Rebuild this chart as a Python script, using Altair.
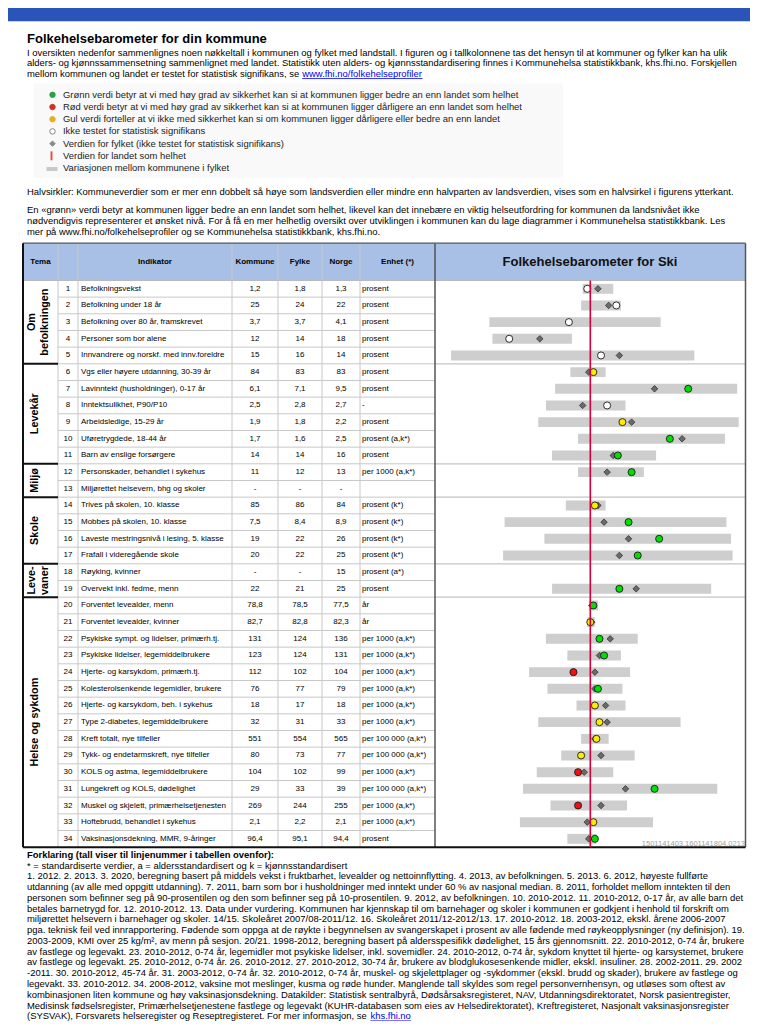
import altair as alt
import pandas as pd

# ---------------- data ----------------
row_numbers = list(range(1, 35))
indicators = [
    "Befolkningsvekst", "Befolkning under 18 år", "Befolkning over 80 år, framskrevet",
    "Personer som bor alene", "Innvandrere og norskf. med innv.foreldre",
    "Vgs eller høyere utdanning, 30-39 år", "Lavinntekt (husholdninger), 0-17 år",
    "Inntektsulikhet, P90/P10", "Arbeidsledige, 15-29 år", "Uføretrygdede, 18-44 år",
    "Barn av enslige forsørgere", "Personskader, behandlet i sykehus",
    "Miljørettet helsevern, bhg og skoler", "Trives på skolen, 10. klasse",
    "Mobbes på skolen, 10. klasse", "Laveste mestringsnivå i lesing, 5. klasse",
    "Frafall i videregående skole", "Røyking, kvinner", "Overvekt inkl. fedme, menn",
    "Forventet levealder, menn", "Forventet levealder, kvinner",
    "Psykiske sympt. og lidelser, primærh.tj.", "Psykiske lidelser, legemiddelbrukere",
    "Hjerte- og karsykdom, primærh.tj.", "Kolesterolsenkende legemidler, brukere",
    "Hjerte- og karsykdom, beh. i sykehus", "Type 2-diabetes, legemiddelbrukere",
    "Kreft totalt, nye tilfeller", "Tykk- og endetarmskreft, nye tilfeller",
    "KOLS og astma, legemiddelbrukere", "Lungekreft og KOLS, dødelighet",
    "Muskel og skjelett, primærhelsetjenesten", "Hoftebrudd, behandlet i sykehus",
    "Vaksinasjonsdekning, MMR, 9-åringer",
]
kommune = ["1,2", "25", "3,7", "12", "15", "84", "6,1", "2,5", "1,9", "1,7", "14", "11", "-", "85", "7,5",
           "19", "20", "-", "22", "78,8", "82,7", "131", "123", "112", "76", "18", "32", "551", "80",
           "104", "29", "269", "2,1", "96,4"]
fylke = ["1,8", "24", "3,7", "14", "16", "83", "7,1", "2,8", "1,8", "1,6", "14", "12", "-", "86", "8,4",
         "22", "22", "-", "21", "78,5", "82,8", "124", "124", "102", "77", "17", "31", "554", "73",
         "102", "33", "244", "2,2", "95,1"]
norge = ["1,3", "22", "4,1", "18", "14", "83", "9,5", "2,7", "2,2", "2,5", "16", "13", "-", "84", "8,9",
         "26", "25", "15", "25", "77,5", "82,3", "136", "131", "104", "79", "18", "33", "565", "77",
         "99", "39", "255", "2,1", "94,4"]
enhet = (["prosent"] * 7 + ["-", "prosent", "prosent (a,k*)", "prosent", "per 1000 (a,k*)", "",
                            "prosent (k*)", "prosent (k*)", "prosent (k*)", "prosent (k*)",
                            "prosent (a*)", "prosent", "år", "år"]
         + ["per 1000 (a,k*)"] * 6
         + ["per 100 000 (a,k*)", "per 100 000 (a,k*)", "per 1000 (a,k*)", "per 100 000 (a,k*)",
            "per 1000 (a,k*)", "per 1000 (a,k*)", "prosent"])

# significance class of the municipality dot (W = not tested, Y = yellow, G = green, R = red)
status = ["W", "W", "W", "W", "W", "Y", "G", "W", "Y", "G", "G", "G", None, "Y", "G", "G", "G", None,
          "G", "G", "Y", "G", "G", "R", "G", "Y", "Y", "Y", "Y", "R", "G", "R", "Y", "G"]
# barometer positions (national value = 0, panel edges = -1 / +1, "better" to the right)
kommune_pos = [-0.02, 0.17, -0.14, -0.53, 0.07, 0.02, 0.64, 0.11, 0.21, 0.52, 0.18, 0.27, None, 0.03,
               0.25, 0.45, 0.31, None, 0.19, 0.02, 0.00, 0.06, 0.09, -0.11, 0.05, 0.03, 0.06, 0.04,
               -0.06, -0.08, 0.42, -0.08, 0.02, 0.03]
fylke_pos = [0.05, 0.12, -0.14, -0.33, 0.19, -0.01, 0.42, -0.05, 0.27, 0.60, 0.15, 0.11, None, 0.05,
             0.09, 0.25, 0.19, None, 0.30, 0.01, 0.01, 0.13, 0.06, 0.03, 0.03, 0.10, 0.11, 0.03,
             0.07, -0.04, 0.23, 0.07, -0.02, -0.01]
range_lo = [-0.05, -0.06, -0.66, -0.64, -0.91, -0.13, -0.23, -0.29, -0.34, -0.08, -0.25, -0.08, None,
            -0.16, -0.56, -0.30, -0.57, None, -0.25, -0.01, -0.02, -0.29, -0.15, -0.40, -0.28, -0.09,
            -0.34, -0.06, -0.19, -0.35, -0.44, -0.26, -0.46, -0.15]
range_hi = [0.15, 0.20, 0.46, -0.12, 0.68, 0.10, 0.96, 0.23, 0.97, 0.88, 0.43, 0.35, None, 0.10, 0.89,
            0.92, 0.93, None, 0.79, 0.05, 0.03, 0.31, 0.20, 0.26, 0.21, 0.23, 0.59, 0.12, 0.29,
            0.15, 0.83, 0.24, 0.41, 0.04]

theme_lines = [["Om", "befolkningen"], ["Levekår"], ["Miljø"], ["Skole"], ["Leve-", "vaner"],
               ["Helse og sykdom"]]
theme_rows = [5, 6, 2, 4, 2, 15]

title_text = "Folkehelsebarometer for din kommune"
intro_lines = [
    "I oversikten nedenfor sammenlignes noen nøkkeltall i kommunen og fylket med landstall. I figuren og i tallkolonnene tas det hensyn til at kommuner og fylker kan ha ulik",
    "alders- og kjønnssammensetning sammenlignet med landet. Statistikk uten alders- og kjønnsstandardisering finnes i Kommunehelsa statistikkbank, khs.fhi.no. Forskjellen",
    "mellom kommunen og landet er testet for statistisk signifikans, se ",
]
intro_link = "www.fhi.no/folkehelseprofiler"
legend_texts = [
    "Grønn verdi betyr at vi med høy grad av sikkerhet kan si at kommunen ligger bedre an enn landet som helhet",
    "Rød verdi betyr at vi med høy grad av sikkerhet kan si at kommunen ligger dårligere an enn landet som helhet",
    "Gul verdi forteller at vi ikke med sikkerhet kan si om kommunen ligger dårligere eller bedre an enn landet",
    "Ikke testet for statistisk signifikans",
    "Verdien for fylket (ikke testet for statistisk signifikans)",
    "Verdien for landet som helhet",
    "Variasjonen mellom kommunene i fylket",
]
halv_text = "Halvsirkler: Kommuneverdier som er mer enn dobbelt så høye som landsverdien eller mindre enn halvparten av landsverdien, vises som en halvsirkel i figurens ytterkant."
green_lines = [
    "En «grønn» verdi betyr at kommunen ligger bedre an enn landet som helhet, likevel kan det innebære en viktig helseutfordring for kommunen da landsnivået ikke",
    "nødvendigvis representerer et ønsket nivå. For å få en mer helhetlig oversikt over utviklingen i kommunen kan du lage diagrammer i Kommunehelsa statistikkbank. Les",
    "mer på www.fhi.no/folkehelseprofiler og se Kommunehelsa statistikkbank, khs.fhi.no.",
]
header_texts = ["Tema", "Indikator", "Kommune", "Fylke", "Norge", "Enhet (*)"]
panel_title = "Folkehelsebarometer for Ski"
footer_title = "Forklaring (tall viser til linjenummer i tabellen ovenfor):"
footer_lines = [
    "* = standardiserte verdier, a = aldersstandardisert og k = kjønnsstandardisert",
    "1. 2012. 2. 2013. 3. 2020, beregning basert på middels vekst i fruktbarhet, levealder og nettoinnflytting. 4. 2013, av befolkningen. 5. 2013. 6. 2012, høyeste fullførte",
    "utdanning (av alle med oppgitt utdanning). 7. 2011, barn som bor i husholdninger med inntekt under 60 % av nasjonal median. 8. 2011, forholdet mellom inntekten til den",
    "personen som befinner seg på 90-prosentilen og den som befinner seg på 10-prosentilen. 9. 2012, av befolkningen. 10. 2010-2012. 11. 2010-2012, 0-17 år, av alle barn det",
    "betales barnetrygd for. 12. 2010-2012. 13. Data under vurdering. Kommunen har kjennskap til om barnehager og skoler i kommunen er godkjent i henhold til forskrift om",
    "miljørettet helsevern i barnehager og skoler. 14/15. Skoleåret 2007/08-2011/12. 16. Skoleåret 2011/12-2012/13. 17. 2010-2012. 18. 2003-2012, ekskl. årene 2006-2007",
    "pga. teknisk feil ved innrapportering. Fødende som oppga at de røykte i begynnelsen av svangerskapet i prosent av alle fødende med røykeopplysninger (ny definisjon). 19.",
    "2003-2009, KMI over 25 kg/m², av menn på sesjon. 20/21. 1998-2012, beregning basert på aldersspesifikk dødelighet, 15 års gjennomsnitt. 22. 2010-2012, 0-74 år, brukere",
    "av fastlege og legevakt. 23. 2010-2012, 0-74 år, legemidler mot psykiske lidelser, inkl. sovemidler. 24. 2010-2012, 0-74 år, sykdom knyttet til hjerte- og karsystemet, brukere",
    "av fastlege og legevakt. 25. 2010-2012, 0-74 år. 26. 2010-2012. 27. 2010-2012, 30-74 år, brukere av blodglukosesenkende midler, ekskl. insuliner. 28. 2002-2011. 29. 2002",
    "-2011. 30. 2010-2012, 45-74 år. 31. 2003-2012, 0-74 år. 32. 2010-2012, 0-74 år, muskel- og skjelettplager og -sykdommer (ekskl. brudd og skader), brukere av fastlege og",
    "legevakt. 33. 2010-2012. 34. 2008-2012, vaksine mot meslinger, kusma og røde hunder. Manglende tall skyldes som regel personvernhensyn, og utløses som oftest av",
    "kombinasjonen liten kommune og høy vaksinasjonsdekning. Datakilder: Statistisk sentralbyrå, Dødsårsaksregisteret, NAV, Utdanningsdirektoratet, Norsk pasientregister,",
    "Medisinsk fødselsregister, Primærhelsetjenestene fastlege og legevakt (KUHR-databasen som eies av Helsedirektoratet), Kreftregisteret, Nasjonalt vaksinasjonsregister",
    "(SYSVAK), Forsvarets helseregister og Reseptregisteret. For mer informasjon, se ",
]
footer_link = "khs.fhi.no"
stamp_text = "1501141403.1601141804.0213"

# ---------------- layout (page pixels of the reference) ----------------
FONT = "Liberation Sans"
W, H = 742, 1013
X_MIN, X_MAX = 8, 750
Y_MIN, Y_MAX = 4, 1025
TL, TR = 23, 745.5              # table left / right
HDR_T, HDR_B = 241, 278.6       # header top / bottom
ROW_H = 16.8
TB = HDR_B + 34 * ROW_H         # table bottom
COLS = [58, 78, 232, 278, 322, 360]
PANEL_L = 435
PC, PHALF = 590.3, 153.0        # panel centre (national line) and half width
BAR_HALF = 5.0
FS_TXT = 9.45                   # running text
FS_TAB = 8.0                    # table text
LEFT = 27

# Arial/Liberation advance widths (per 1000 em) used to place the inline links
_AW = {" ": 278, ".": 278, ",": 278, "-": 333, "/": 278, "(": 333, ")": 333, "f": 278, "i": 222,
       "j": 222, "l": 222, "r": 333, "t": 278, "k": 500, "s": 500, "v": 500, "x": 500, "y": 500,
       "z": 500, "c": 500, "m": 833, "w": 722, "ø": 611, "æ": 889, "I": 278, "S": 667, "Y": 667,
       "V": 667, "A": 667, "K": 667, "F": 611, "R": 722}


def text_w(s, fs):
    return sum(_AW.get(ch, 556) for ch in s) / 1000.0 * fs


px_x = alt.Scale(domain=[X_MIN, X_MAX], nice=False, zero=False)
px_y = alt.Scale(domain=[Y_MIN, Y_MAX], nice=False, zero=False, reverse=True)
b_x = alt.Scale(domain=[(X_MIN - PC) / PHALF, (X_MAX - PC) / PHALF], nice=False, zero=False)


def row_c(i):
    return HDR_B + (i + 0.5) * ROW_H


def rect_layer(df):
    return alt.Chart(df).mark_rect().encode(
        x=alt.X("x:Q", scale=px_x, axis=None), x2="x2:Q",
        y=alt.Y("y:Q", scale=px_y, axis=None), y2="y2:Q",
        color=alt.Color("c:N", scale=None))


def rule_layer(df):
    return alt.Chart(df).mark_rule().encode(
        x=alt.X("x:Q", scale=px_x, axis=None), x2="x2:Q",
        y=alt.Y("y:Q", scale=px_y, axis=None), y2="y2:Q",
        color=alt.Color("c:N", scale=None),
        strokeWidth=alt.StrokeWidth("w:Q", scale=None))


def text_layer(rows, **kw):
    df = pd.DataFrame(rows, columns=["x", "y", "t", "s", "c"])
    return alt.Chart(df).mark_text(font=FONT, baseline="middle", **kw).encode(
        x=alt.X("x:Q", scale=px_x, axis=None),
        y=alt.Y("y:Q", scale=px_y, axis=None),
        text=alt.Text("t:N"),
        size=alt.Size("s:Q", scale=None),
        color=alt.Color("c:N", scale=None))


# vertical positions of the running text
TITLE_Y = 35
INTRO_Y = [49, 59.8, 70.5]
LEG_Y0, LEG_DY = 91.5, 12.3
LEG_MX, LEG_TX = 52.5, 63
HALV_Y = 189.5
GREEN_Y = [208, 219, 230]
FY0, FDY = 857.5, 10.85

# background rectangles
rects = pd.DataFrame([
    dict(x=0, x2=758, y=0, y2=17.3, c="#2b54bb"),
    dict(x=34, x2=563, y=80, y2=175, c="#f9f9f9"),
    dict(x=TL, x2=TR, y=HDR_T, y2=HDR_B, c="#a8c0e6"),
])

# grid lines
rl = []
for k in range(1, 34):
    yk = HDR_B + k * ROW_H
    rl.append(dict(x=COLS[0], x2=PANEL_L, y=yk, y2=yk, c="#c8c8c8", w=1))
bounds = []
acc = 0
for n in theme_rows[:-1]:
    acc += n
    bounds.append(HDR_B + acc * ROW_H)
for yb in bounds:
    rl.append(dict(x=PANEL_L, x2=TR, y=yb, y2=yb, c="#c4c4c4", w=1.2))
for xc in COLS:
    rl.append(dict(x=xc, x2=xc, y=HDR_T, y2=TB, c="#c8c8c8", w=1))
rl.append(dict(x=TL, x2=TR, y=HDR_B, y2=HDR_B, c="#b8b8b8", w=1))
for yb in bounds:
    rl.append(dict(x=TL, x2=COLS[0], y=yb, y2=yb, c="#111111", w=2))
rl.append(dict(x=PANEL_L, x2=PANEL_L, y=HDR_T, y2=TB, c="#555555", w=1.5))
rl.append(dict(x=TR, x2=TR, y=HDR_T, y2=TB, c="#555555", w=1.5))
rl.append(dict(x=TL, x2=TR, y=HDR_T, y2=HDR_T, c="#555555", w=1.2))
rl.append(dict(x=TL, x2=TL, y=HDR_T, y2=TB, c="#111111", w=2))
rl.append(dict(x=TL, x2=TR, y=TB, y2=TB, c="#111111", w=2))

# inline links (placed after the preceding text)
link1_x = LEFT + text_w(intro_lines[2], FS_TXT)
link1_w = text_w(intro_link, FS_TXT)
foot_last_y = FY0 + len(footer_lines) * FDY
link2_x = LEFT + text_w(footer_lines[-1], FS_TXT)
link2_w = text_w(footer_link, FS_TXT)
rl.append(dict(x=link1_x, x2=link1_x + link1_w, y=INTRO_Y[2] + 4.6, y2=INTRO_Y[2] + 4.6, c="#0000ee", w=0.8))
rl.append(dict(x=link2_x, x2=link2_x + link2_w, y=foot_last_y + 4.6, y2=foot_last_y + 4.6, c="#0000ee", w=0.8))

# legend: national tick and municipality range
rl.append(dict(x=LEG_MX - 1, x2=LEG_MX - 1, y=LEG_Y0 + 5 * LEG_DY - 4.5, y2=LEG_Y0 + 5 * LEG_DY + 4.5,
               c="#e0524a", w=2))
rl.append(dict(x=LEG_MX - 6, x2=LEG_MX + 5, y=LEG_Y0 + 6 * LEG_DY + 1, y2=LEG_Y0 + 6 * LEG_DY + 1,
               c="#c8c8c8", w=4))
rules = pd.DataFrame(rl)

BLACK = "#000000"
reg_left = [(LEFT, INTRO_Y[i], intro_lines[i], FS_TXT, BLACK) for i in range(3)]
reg_left.append((link1_x, INTRO_Y[2], intro_link, FS_TXT, "#0000ee"))
reg_left.append((LEFT, HALV_Y, halv_text, FS_TXT, BLACK))
for i, t in enumerate(green_lines):
    reg_left.append((LEFT, GREEN_Y[i], t, FS_TXT, BLACK))
for i, t in enumerate(legend_texts):
    reg_left.append((LEG_TX, LEG_Y0 + i * LEG_DY, t, FS_TXT, "#222222"))
for i, t in enumerate(footer_lines):
    reg_left.append((LEFT, FY0 + (i + 1) * FDY, t, FS_TXT, BLACK))
reg_left.append((link2_x, foot_last_y, footer_link, FS_TXT, "#0000ee"))
for i in range(34):
    reg_left.append((81, row_c(i), indicators[i], FS_TAB, BLACK))
    reg_left.append((362, row_c(i), enhet[i], FS_TAB, BLACK))

reg_center = []
for i in range(34):
    reg_center.append((68, row_c(i), str(row_numbers[i]), FS_TAB, BLACK))
    reg_center.append((255, row_c(i), kommune[i], FS_TAB, BLACK))
    reg_center.append((300, row_c(i), fylke[i], FS_TAB, BLACK))
    reg_center.append((341, row_c(i), norge[i], FS_TAB, BLACK))

HY = (HDR_T + HDR_B) / 2
bold_center = [(40.5, HY, header_texts[0], 8, BLACK), (155, HY, header_texts[1], 8, BLACK),
               (255, HY, header_texts[2], 8, BLACK), (300, HY, header_texts[3], 8, BLACK),
               (341, HY, header_texts[4], 8, BLACK), (397.5, HY, header_texts[5], 8, BLACK),
               (590, HY, panel_title, 13, "#111111")]
bold_left = [(LEFT, TITLE_Y, title_text, 13, BLACK), (LEFT, FY0, footer_title, FS_TXT, BLACK)]

rot = []
start = 0
for lines, n in zip(theme_lines, theme_rows):
    yc = HDR_B + (start + n / 2) * ROW_H
    if len(lines) == 1:
        rot.append((35, yc, lines[0], 10.8, BLACK))
    else:
        rot.append((32, yc, lines[0], 10.8, BLACK))
        rot.append((45, yc, lines[1], 10.8, BLACK))
    start += n

stamp = [(745, TB - 3, stamp_text, 7.5, "#a0a0a0")]

# legend symbols
leg_pts = pd.DataFrame([
    dict(x=LEG_MX, y=LEG_Y0, f="#2e9e48", s="#2e9e48", shape="circle"),
    dict(x=LEG_MX, y=LEG_Y0 + LEG_DY, f="#cc3322", s="#cc3322", shape="circle"),
    dict(x=LEG_MX, y=LEG_Y0 + 2 * LEG_DY, f="#e3b020", s="#e3b020", shape="circle"),
    dict(x=LEG_MX, y=LEG_Y0 + 3 * LEG_DY, f="#ffffff", s="#777777", shape="circle"),
    dict(x=LEG_MX, y=LEG_Y0 + 4 * LEG_DY, f="#8a8a8a", s="#8a8a8a", shape="diamond"),
])
leg_layer = alt.Chart(leg_pts).mark_point(filled=True, size=30, strokeWidth=0.9, opacity=1).encode(
    x=alt.X("x:Q", scale=px_x, axis=None), y=alt.Y("y:Q", scale=px_y, axis=None),
    fill=alt.Fill("f:N", scale=None), stroke=alt.Stroke("s:N", scale=None),
    shape=alt.Shape("shape:N", scale=None))

page = alt.layer(
    rect_layer(rects),
    rule_layer(rules),
    text_layer(reg_left, align="left"),
    text_layer(reg_center, align="center"),
    text_layer(bold_center, align="center", fontWeight="bold"),
    text_layer(bold_left, align="left", fontWeight="bold"),
    text_layer(rot, align="center", fontWeight="bold", angle=270),
    text_layer(stamp, align="right"),
    leg_layer,
)

# ---------------- barometer ----------------
fill_map = {"W": "#ffffff", "Y": "#ffea00", "G": "#00e000", "R": "#ee1111"}
brows = []
for i in range(34):
    if status[i] is None:
        continue
    yc = row_c(i)
    brows.append(dict(lo=range_lo[i], hi=range_hi[i], k=kommune_pos[i], f=fylke_pos[i],
                      yc=yc, yt=yc - BAR_HALF, yb=yc + BAR_HALF, fill=fill_map[status[i]]))
bdf = pd.DataFrame(brows)

bars = alt.Chart(bdf).mark_rect(color="#cecece").encode(
    x=alt.X("lo:Q", scale=b_x, axis=None), x2="hi:Q",
    y=alt.Y("yt:Q", scale=px_y, axis=None), y2="yb:Q")
diamonds = alt.Chart(bdf).mark_point(shape="diamond", filled=True, size=42, fill="#6a6a6a",
                                     stroke="#333333", strokeWidth=0.8, opacity=1).encode(
    x=alt.X("f:Q", scale=b_x, axis=None), y=alt.Y("yc:Q", scale=px_y, axis=None))
circles = alt.Chart(bdf).mark_point(shape="circle", filled=True, size=50, stroke="#1a1a1a",
                                    strokeWidth=0.9, opacity=1).encode(
    x=alt.X("k:Q", scale=b_x, axis=None), y=alt.Y("yc:Q", scale=px_y, axis=None),
    fill=alt.Fill("fill:N", scale=None))
national = pd.DataFrame([dict(u=0.0, y=HDR_B, y2=TB)])
nat_line = alt.Chart(national).mark_rule(color="#d4003a", strokeWidth=1.6).encode(
    x=alt.X("u:Q", scale=b_x, axis=None),
    y=alt.Y("y:Q", scale=px_y, axis=None), y2="y2:Q")

baro = alt.layer(bars, diamonds, circles, nat_line)

chart = alt.layer(page, baro).resolve_scale(x="independent").properties(
    width=W, height=H, padding=0, autosize=alt.AutoSizeParams(type="none"),
    background="#ffffff",
).configure_view(stroke=None)

chart.save("out.html", embed_options={"renderer": "svg", "actions": False})
